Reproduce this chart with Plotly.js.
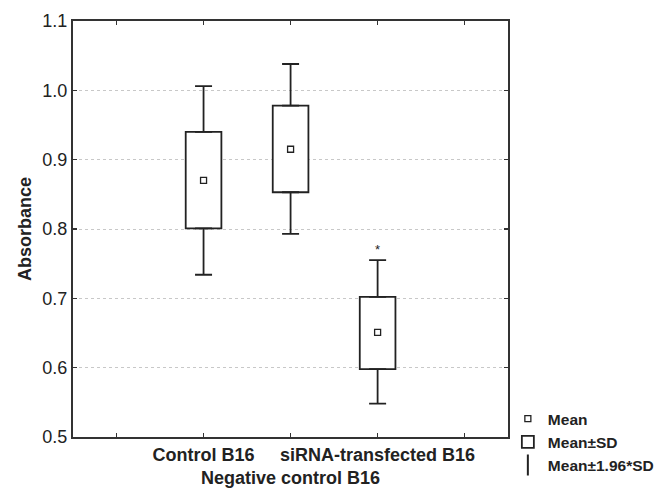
<!DOCTYPE html>
<html>
<head>
<meta charset="utf-8">
<script src="https://cdn.plot.ly/plotly-3.0.1.min.js"></script>
<style>html,body{margin:0;padding:0;background:#fff;}#chart{width:657px;height:488px;}</style>
</head>
<body>
<div id="chart"></div>
<script>
// Data
var groupPos = [0, 1, 2];
var groupLabels = ["Control B16", "Negative control B16", "siRNA-transfected B16"];
var means = [0.870, 0.915, 0.651];
var sdLow = [0.801, 0.853, 0.598];
var sdHigh = [0.940, 0.978, 0.702];
var ciLow = [0.734, 0.793, 0.548];
var ciHigh = [1.006, 1.038, 0.755];
var signif = ["", "", "*"];

var tickVals = [-1, 0, 1, 2, 3];
var tickText = ["", groupLabels[0], "<br>" + groupLabels[1], groupLabels[2], ""];
var yTicks = [0.5, 0.6, 0.7, 0.8, 0.9, 1.0, 1.1];

var ink = "#222";
var fontFam = "Liberation Sans, Arial, sans-serif";

var zeros = groupPos.map(function(){ return 0; });

var traces = [
  {
    type: "bar", name: "Mean\u00b1SD",
    x: groupPos,
    base: sdLow,
    y: sdHigh.map(function(v, i){ return v - sdLow[i]; }),
    width: 0.41,
    marker: {color: "#fff", line: {color: ink, width: 1.8}},
    hoverinfo: "skip",
    legendrank: 2
  },
  {
    type: "scatter", mode: "markers", name: "upper",
    x: groupPos, y: sdHigh,
    marker: {size: 1, color: "rgba(0,0,0,0)"},
    error_y: {type: "data", symmetric: false,
      array: ciHigh.map(function(v, i){ return v - sdHigh[i]; }),
      arrayminus: zeros, color: ink, thickness: 1.8, width: 8.5},
    showlegend: false, hoverinfo: "skip"
  },
  {
    type: "scatter", mode: "markers", name: "lower",
    x: groupPos, y: sdLow,
    marker: {size: 1, color: "rgba(0,0,0,0)"},
    error_y: {type: "data", symmetric: false,
      array: zeros,
      arrayminus: sdLow.map(function(v, i){ return v - ciLow[i]; }),
      color: ink, thickness: 1.8, width: 8.5},
    showlegend: false, hoverinfo: "skip"
  },
  {
    type: "scatter", mode: "markers", name: "Mean",
    x: groupPos, y: means,
    marker: {symbol: "square-open", size: 6, color: ink, line: {color: ink, width: 1.3}},
    legendrank: 1
  },
  {
    type: "scatter", mode: "markers", name: "Mean\u00b11.96*SD",
    x: [null], y: [null],
    marker: {symbol: "line-ns-open", size: 15, color: ink, line: {color: ink, width: 2}},
    legendrank: 3
  }
];

var annotations = groupPos.map(function(p, i){
  return {x: p, y: ciHigh[i], xref: "x", yref: "y", text: signif[i], showarrow: false,
    yanchor: "bottom", yshift: 1, font: {family: fontFam, size: 13, color: ink}};
}).filter(function(a){ return a.text !== ""; });

var layout = {
  width: 657, height: 488,
  margin: {l: 72.5, r: 136.3, t: 20.5, b: 51, pad: 0},
  paper_bgcolor: "#fff", plot_bgcolor: "#fff",
  font: {family: fontFam, color: ink},
  showlegend: true,
  legend: {xref: "container", yref: "container", x: 0.773, xanchor: "left", y: 0.176, yanchor: "top",
    font: {family: fontFam, size: 15.5, color: ink, weight: "bold"},
    itemwidth: 30, tracegroupgap: 0, bgcolor: "rgba(0,0,0,0)", traceorder: "normal"},
  xaxis: {
    range: [-1.5, 3.5], tickmode: "array", tickvals: tickVals, ticktext: tickText,
    tickangle: 0, automargin: false,
    showgrid: false, zeroline: false,
    showline: true, linecolor: "#333", linewidth: 2, mirror: "ticks",
    ticks: "inside", ticklen: 4, tickwidth: 1.5, tickcolor: "#333",
    tickfont: {family: fontFam, size: 18, color: ink, weight: "bold"}
  },
  yaxis: {
    range: [0.5, 1.1], tickmode: "array", tickvals: yTicks,
    ticktext: yTicks.map(function(v){ return v.toFixed(1); }),
    automargin: false,
    showgrid: true, gridcolor: "#c8c8c8", griddash: "dot", gridwidth: 1,
    zeroline: false,
    showline: true, linecolor: "#333", linewidth: 2, mirror: "ticks",
    ticks: "inside", ticklen: 4, tickwidth: 1.5, tickcolor: "#333",
    tickfont: {family: fontFam, size: 18, color: ink},
    title: {text: "Absorbance", font: {family: fontFam, size: 18, color: ink, weight: "bold"}, standoff: 6}
  },
  annotations: annotations,
  bargap: 0
};

Plotly.newPlot("chart", traces, layout, {displayModeBar: false, staticPlot: true});
</script>
</body>
</html>
